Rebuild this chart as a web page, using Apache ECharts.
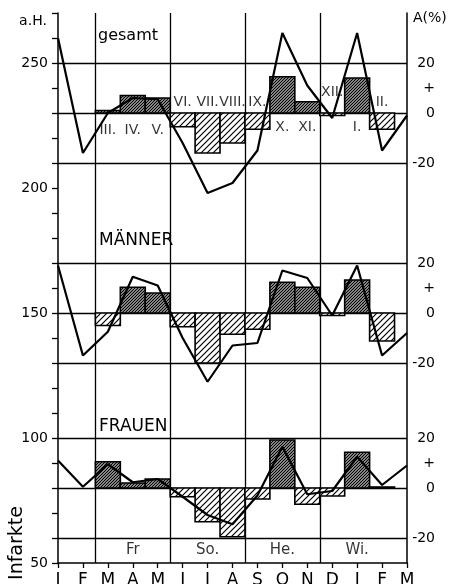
<!DOCTYPE html>
<html><head><meta charset="utf-8">
<script src="https://cdn.jsdelivr.net/npm/echarts@6/dist/echarts.min.js"></script>
<style>html,body{margin:0;padding:0;background:#fff}#c{width:451px;height:584px}</style>
</head><body><div id="c"></div>
<script>
// ---- data ----
const months = ['J','F','M','A','M','J','J','A','S','O','N','D','J','F','M'];
const gesamtLine  = [260,214,230,236,235.5,218,198,202,215,262,241,228,262,215,229];
const maennerLine = [169,133,142.5,164.5,161,140,122.5,137,138,167,164,149,169,133,142];
const frauenLine  = [91,80.5,89.5,82.3,83.6,76.5,69.2,65.5,77,96.5,77.5,78.8,92.5,81.2,89];
const barMonths   = [2,3,4,5,6,7,8,9,10,11,12,13];
const romanLabels = ['III.','IV.','V.','VI.','VII.','VIII.','IX.','X.','XI.','XII.','I.','II.'];
const gesamtPct   = [1,7,6,-5.5,-16,-12,-6.5,14.5,4.5,-1,14,-6.5];
const maennerPct  = [-5,10.3,8,-5.5,-20,-8.5,-6.5,12.3,10.3,-1,13.2,-11.2];
const frauenPct   = [10.5,2,3.6,-3.5,-13.5,-19.5,-4.4,19.2,-6.5,-3.2,14.3,0.4];
const panelNames  = ['gesamt','MÄNNER','FRAUEN'];
const panelBase   = [230,150,80];
const seasonNames = ['Fr','So.','He.','Wi.'];
const seasonCenters = [3,6,9,12];
const seasonEdges = [1.5,4.5,7.5,10.5];
const leftLabeled = [250,200,150,100,50];
const pctTicks    = [20,0,-20];

// ---- build ----
const FONT = 'DejaVu Sans';
function hatch(size, lw){
  const c=document.createElement('canvas'); c.width=c.height=size;
  const g=c.getContext('2d'); g.fillStyle='#fff'; g.fillRect(0,0,size,size);
  g.strokeStyle='#000'; g.lineWidth=lw; g.beginPath();
  g.moveTo(-1,size+1); g.lineTo(size+1,-1);
  g.moveTo(-2,2); g.lineTo(2,-2);
  g.moveTo(size-2,size+2); g.lineTo(size+2,size-2);
  g.stroke(); return c;
}
const posPat = {image: hatch(3,1.4), repeat:'repeat'};
const negPat = {image: hatch(6,1.2), repeat:'repeat'};

const rightMap = {};
panelBase.forEach(b=>{ rightMap[b+20]='20'; rightMap[b+10]='+'; rightMap[b]='0'; rightMap[b-20]='-20'; });
const hLines = [];
panelBase.forEach(b=>pctTicks.forEach(p=>hLines.push(b+p)));

function renderBar(params, api){
  const m=api.value(0), b=api.value(1), t=api.value(2);
  const p1=api.coord([m-0.5, Math.max(b,t)]);
  const p2=api.coord([m+0.5, Math.min(b,t)]);
  return {type:'rect', shape:{x:p1[0], y:p1[1], width:p2[0]-p1[0], height:Math.max(p2[1]-p1[1],1)},
    style:{fill: t>=b?posPat:negPat, stroke:'#000', lineWidth:1.6}};
}
const pctSets=[gesamtPct,maennerPct,frauenPct];
const lineSets=[gesamtLine,maennerLine,frauenLine];
const series=[];
pctSets.forEach((pct,k)=>{
  series.push({type:'custom', renderItem:renderBar, z:2, encode:{x:0,y:[1,2]},
    data: barMonths.map((m,i)=>[m, panelBase[k], panelBase[k]+pct[i]])});
});
lineSets.forEach((arr,k)=>{
  const s={type:'line', data:arr.map((v,i)=>[i,v]), symbol:'none', z:5,
    lineStyle:{color:'#000', width:2.2}};
  if(k===0){
    s.markLine={silent:true, symbol:['none','none'], label:{show:false}, z:1,
      lineStyle:{color:'#000', width:1.3, type:'solid'},
      data:[...hLines.map(v=>({yAxis:v})), ...seasonEdges.map(v=>({xAxis:v}))]};
  }
  series.push(s);
});
// roman numeral labels
const romanOffset=[-7,-7,-7,4.4,4.4,4.4,4.4,-5.8,-5.8,8.4,-5.8,4.4];
series.push({type:'scatter', symbolSize:0, z:6, silent:true,
  data: barMonths.map((m,i)=>[m, panelBase[0]+romanOffset[i]]),
  label:{show:true, position:'inside', formatter:p=>romanLabels[p.dataIndex],
    fontFamily:FONT, fontSize:14, color:'#000'}});
// season labels
series.push({type:'scatter', symbolSize:0, z:6, silent:true,
  data: seasonCenters.map(c=>[c,55.2]),
  label:{show:true, position:'inside', formatter:p=>seasonNames[p.dataIndex],
    fontFamily:FONT, fontSize:15, color:'#000'}});

const chart=echarts.init(document.getElementById('c'));
chart.setOption({
  animation:false,
  backgroundColor:'#fff',
  grid:{left:58, right:44, top:13, bottom:21, containLabel:false, outerBoundsMode:'none'},
  xAxis:{type:'value', min:0, max:14, interval:1,
    axisLine:{lineStyle:{color:'#000', width:1.5}},
    axisTick:{show:true, length:5, lineStyle:{color:'#000', width:1.3}},
    splitLine:{show:false},
    axisLabel:{formatter:v=>months[v]||'', fontFamily:FONT, fontSize:17, color:'#000', margin:9}},
  yAxis:[
    {type:'value', min:50, max:270, interval:10, position:'left',
      axisLine:{show:true, lineStyle:{color:'#000', width:1.5}},
      axisTick:{show:true, length:6, lineStyle:{color:'#000', width:1.3}},
      splitLine:{show:false},
      axisLabel:{formatter:v=>leftLabeled.includes(v)?String(v):'', fontFamily:FONT, fontSize:14, color:'#000', margin:10}},
    {type:'value', min:50, max:270, interval:10, position:'right',
      axisLine:{show:true, lineStyle:{color:'#000', width:1.5}},
      axisTick:{show:false}, splitLine:{show:false},
      axisLabel:{formatter:v=>rightMap[v]||'', align:'right', margin:28, fontFamily:FONT, fontSize:14, color:'#000'}}
  ],
  graphic:[
    {type:'text', x:33, y:21, style:{text:'a.H.', font:'14px '+FONT, fill:'#000', align:'center', verticalAlign:'middle'}},
    {type:'text', x:413, y:18, style:{text:'A(%)', font:'14px '+FONT, fill:'#000', align:'left', verticalAlign:'middle'}},
    {type:'text', x:98, y:36, style:{text:panelNames[0], font:'16px '+FONT, fill:'#000', verticalAlign:'middle'}},
    {type:'text', x:99, y:241, style:{text:panelNames[1], font:'17px '+FONT, fill:'#000', verticalAlign:'middle'}},
    {type:'text', x:99, y:427, style:{text:panelNames[2], font:'17px '+FONT, fill:'#000', verticalAlign:'middle'}},
    {type:'text', x:17, y:543, rotation:Math.PI/2, style:{text:'Infarkte', font:'19px '+FONT, fill:'#000', align:'center', verticalAlign:'middle'}}
  ],
  series:series
});
</script></body></html>
